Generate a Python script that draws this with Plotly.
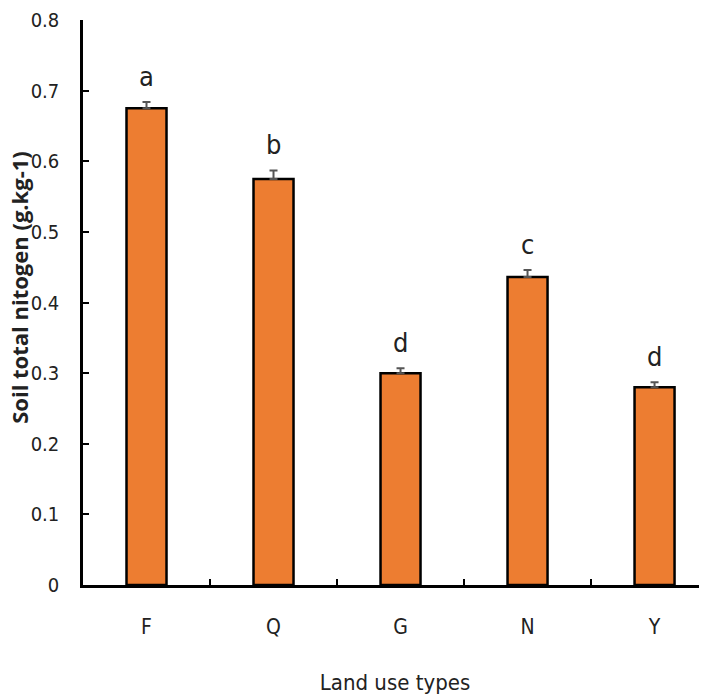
import plotly.graph_objects as go

categories = ["F", "Q", "G", "N", "Y"]
values = [0.675, 0.575, 0.300, 0.436, 0.280]
errors = [0.009, 0.012, 0.007, 0.010, 0.007]
letters = ["a", "b", "d", "c", "d"]
y_ticks = [0, 0.1, 0.2, 0.3, 0.4, 0.5, 0.6, 0.7, 0.8]
y_tick_labels = ["0", "0.1", "0.2", "0.3", "0.4", "0.5", "0.6", "0.7", "0.8"]
y_title = "Soil total nitogen (g.kg-1)"
x_title = "Land use types"

font_main = "DejaVu Sans Condensed, Liberation Sans Narrow, Open Sans, Arial, sans-serif"

fig = go.Figure()
fig.add_trace(go.Bar(
    x=categories, y=values, width=0.315,
    marker=dict(color="#ED7D31", line=dict(color="black", width=2.5)),
    error_y=dict(type="data", symmetric=False, array=errors, arrayminus=[0] * len(errors),
                 visible=True, color="#555555", thickness=2, width=4),
    showlegend=False,
))
for cat, v, e, lab in zip(categories, values, errors, letters):
    fig.add_annotation(x=cat, y=v + e, text=lab, showarrow=False,
                       yanchor="bottom", yshift=8,
                       font=dict(size=27, color="#222222", family=font_main))

fig.add_annotation(x=0, y=0.526, xref="paper", yref="paper", text=y_title,
                   textangle=-90, showarrow=False, xanchor="center", yanchor="middle",
                   xshift=-64,
                   font=dict(size=22, family="Open Sans, Arial, sans-serif", color="#222222", weight="bold"))

fig.update_layout(
    width=699, height=690,
    margin=dict(l=75, r=0, t=12, b=113),
    paper_bgcolor="white", plot_bgcolor="white",
    font=dict(family=font_main, color="#222222"),
)
fig.update_xaxes(
    range=[-0.5, 4.413], automargin=False,
    showline=True, linecolor="black", linewidth=2.5,
    ticks="inside", tickson="boundaries", ticklen=6, tickwidth=1.5, tickcolor="black",
    tickfont=dict(size=21, family=font_main, color="#222222"),
    ticklabelstandoff=21,
    title=dict(text=x_title, font=dict(size=22, family=font_main, color="#222222"), standoff=37),
    showgrid=False, zeroline=False,
)
fig.update_yaxes(
    range=[0, 0.8], tickvals=y_ticks, ticktext=y_tick_labels, automargin=False,
    showline=True, linecolor="black", linewidth=2.5,
    ticks="inside", ticklen=6, tickwidth=1.5, tickcolor="black",
    tickfont=dict(size=20, family=font_main, color="#222222"),
    ticklabelstandoff=17,
    showgrid=False, zeroline=False,
)

fig.write_html("out.html")
